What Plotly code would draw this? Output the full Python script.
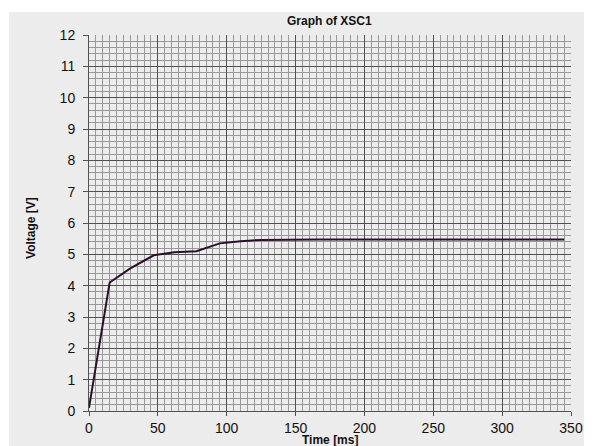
import plotly.graph_objects as go

time_ms = [0, 15, 30, 47, 62, 78, 95, 110, 125, 140, 165, 200, 250, 300, 345]
voltage = [0.1, 4.1, 4.55, 4.97, 5.07, 5.1, 5.35, 5.42, 5.46, 5.47, 5.47, 5.47, 5.47, 5.47, 5.47]
x_ticks = [0, 50, 100, 150, 200, 250, 300, 350]

bg = "#ececec"
W, H = 584, 438
L, R, T, B = 81, 20.5, 27, 35.3
pw, ph = W - L - R, H - T - B

def px(x):  # figure px -> paper x
    return (x - L) / pw

def py(y):  # figure px (from top) -> paper y
    return (H - B - y) / ph

fig = go.Figure()
fig.add_trace(go.Scatter(x=time_ms, y=voltage, mode="lines",
                         line=dict(color="#2a0f2a", width=2), showlegend=False))

font = dict(family="Liberation Sans, Arial, sans-serif", color="#111")
fig.update_layout(
    width=W, height=H,
    paper_bgcolor="white", plot_bgcolor=bg,
    margin=dict(l=L, r=R, t=T, b=B, autoexpand=False),
    font=dict(size=14, **font),
    shapes=[dict(type="rect", xref="paper", yref="paper", layer="below",
                 x0=px(1), x1=px(W + 2), y0=py(H + 2), y1=py(4),
                 fillcolor=bg, line=dict(width=0))],
    annotations=[
        dict(text="<b>Graph of XSC1</b>", xref="paper", yref="paper",
             x=px(322), y=py(13.5), xanchor="center", yanchor="middle",
             showarrow=False, font=dict(size=12, **font)),
        dict(text="<b>Voltage [V]</b>", xref="paper", yref="paper",
             x=px(22.7), y=py(220), xanchor="center", yanchor="middle", textangle=-90,
             showarrow=False, font=dict(size=12, **font)),
        dict(text="<b>Time [ms]</b>", xref="paper", yref="paper",
             x=px(322), y=py(431.5), xanchor="center", yanchor="middle",
             showarrow=False, font=dict(size=12, **font)),
    ],
)
fig.update_xaxes(range=[0, 350], tickmode="array", tickvals=x_ticks,
                 showgrid=True, gridcolor="#505050", gridwidth=1, automargin=False,
                 minor=dict(dtick=5, showgrid=True, gridcolor="#989898", gridwidth=1),
                 ticks="outside", ticklen=4, tickcolor="#505050",
                 showline=True, linecolor="#505050", zeroline=False)
fig.update_yaxes(range=[0, 12], dtick=1, automargin=False,
                 showgrid=True, gridcolor="#505050", gridwidth=1,
                 minor=dict(dtick=0.2, showgrid=True, gridcolor="#989898", gridwidth=1),
                 ticks="outside", ticklen=5, tickcolor="#505050", ticklabelstandoff=5,
                 showline=True, linecolor="#505050", zeroline=False)
fig.write_html("out.html")
